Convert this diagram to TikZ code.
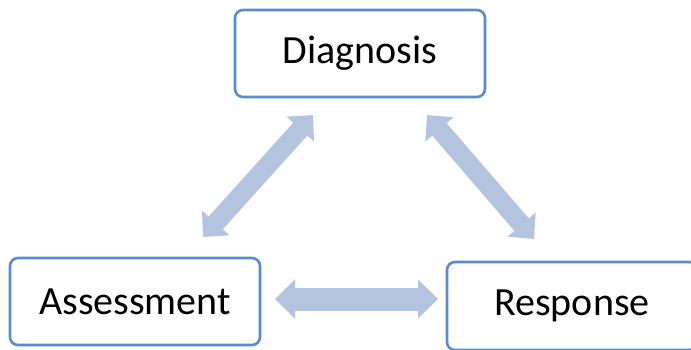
\documentclass[tikz,border=0pt]{standalone}
\usepackage{fontspec}
\setmainfont{Carlito}
\usetikzlibrary{arrows.meta}
\definecolor{boxblue}{HTML}{5A8AD2}
\definecolor{arrowblue}{HTML}{B4C4DE}
\tikzset{
  stagebox/.style={draw=boxblue, line width=2.6pt, rounded corners=8pt, fill=white,
    minimum width=250pt, minimum height=87pt, inner sep=0pt,
    font=\fontsize{40}{48}\selectfont, text=black},
  fatarrow/.style={draw=arrowblue, line width=19pt,
    {Triangle[width=36pt,length=19pt]}-{Triangle[width=36pt,length=19pt]}},
  flatarrow/.style={draw=arrowblue, line width=23pt,
    {Triangle[width=38pt,length=20pt]}-{Triangle[width=38pt,length=20pt]}}
}
\begin{document}
\begin{tikzpicture}[x=1pt,y=-1pt]
  \useasboundingbox (0,0) rectangle (691,349);
  \clip (0,0) rectangle (691,349);
  \fill[white] (0,0) rectangle (691,349);

  % the three stages
  \node[stagebox] (diag) at (360,53.5) {Diagnosis};
  \node[stagebox] (assess) at (135,301.5) {Assessment};
  \node[stagebox, minimum height=88pt] (resp) at (572,306) {Response};

  % ends of the two-way arrows
  \coordinate (dl) at (313,115);
  \coordinate (al) at (203,237);
  \coordinate (dr) at (427,115);
  \coordinate (rr) at (534,239);
  \coordinate (ah) at (275,299);
  \coordinate (rh) at (438,299);

  \draw[fatarrow] (dl) -- (al);
  \draw[fatarrow] (dr) -- (rr);
  \draw[flatarrow] (ah) -- (rh);
\end{tikzpicture}
\end{document}
